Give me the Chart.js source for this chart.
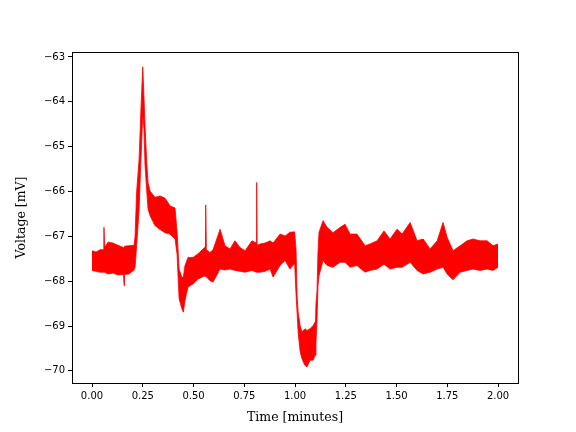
<!DOCTYPE html>
<html lang="en">
<head>
    <meta charset="UTF-8">
    <script src="https://cdn.jsdelivr.net/npm/chart.js@4.4.0/dist/chart.umd.min.js"></script>
    <title>Voltage trace</title>
    <style>
        html, body { margin: 0; padding: 0; background: #fff; }
        #wrap { width: 576px; height: 432px; }
    </style>
</head>
<body>
<div id="wrap"><canvas id="container" width="576" height="432"></canvas></div>

<script>
    // time in minutes, upper / lower edge of the noisy trace in mV
    const times = [0.000, 0.020, 0.039, 0.057, 0.059, 0.062, 0.079, 0.103, 0.128, 0.155, 0.158, 0.160, 0.182, 0.207, 0.212,
        0.220, 0.232, 0.241, 0.250, 0.256, 0.261, 0.269, 0.276, 0.286, 0.310, 0.335, 0.360, 0.384, 0.409, 0.419,
        0.429, 0.443, 0.450, 0.458, 0.473, 0.498, 0.522, 0.557, 0.560, 0.563, 0.581, 0.596, 0.631, 0.655, 0.680,
        0.704, 0.729, 0.754, 0.788, 0.810, 0.811, 0.813, 0.828, 0.852, 0.877, 0.892, 0.926, 0.951, 0.975, 0.998,
        1.005, 1.010, 1.015, 1.025, 1.034, 1.049, 1.059, 1.074, 1.089, 1.099, 1.103, 1.108, 1.113, 1.118, 1.138,
        1.158, 1.187, 1.222, 1.246, 1.271, 1.305, 1.345, 1.369, 1.404, 1.438, 1.468, 1.502, 1.527, 1.567, 1.601,
        1.631, 1.665, 1.700, 1.729, 1.749, 1.778, 1.813, 1.847, 1.877, 1.911, 1.946, 1.975, 2.000];
    const upper = [-67.32, -67.35, -67.30, -67.30, -66.80, -67.25, -67.13, -67.15, -67.20, -67.25, -67.25, -67.22, -67.21, -67.20, -67.00,
        -66.00, -65.28, -64.17, -63.22, -63.90, -64.50, -65.30, -65.80, -65.99, -66.13, -66.10, -66.15, -66.32, -66.37, -66.90,
        -67.73, -67.92, -67.90, -67.65, -67.47, -67.47, -67.39, -67.24, -66.30, -67.30, -67.36, -67.30, -66.84, -67.21, -67.28,
        -67.10, -67.25, -67.32, -67.10, -67.15, -65.80, -67.20, -67.17, -67.15, -67.10, -67.15, -66.95, -66.99, -66.91, -66.90,
        -67.30, -68.32, -68.68, -68.99, -69.13, -69.06, -69.10, -69.06, -68.99, -68.91, -68.50, -68.24, -67.35, -66.91, -66.65,
        -66.80, -66.92, -66.80, -66.73, -66.95, -66.95, -67.21, -67.17, -67.10, -66.88, -67.06, -66.84, -66.95, -66.69, -67.10,
        -67.06, -67.28, -67.10, -66.69, -67.02, -67.32, -67.21, -67.10, -67.06, -67.10, -67.10, -67.21, -67.17];
    const lower = [-67.76, -67.78, -67.80, -67.80, -67.80, -67.80, -67.84, -67.82, -67.86, -67.85, -68.10, -67.85, -67.84, -67.75, -67.70,
        -67.20, -66.40, -65.30, -64.30, -64.60, -65.40, -65.95, -66.39, -66.54, -66.76, -66.85, -66.92, -66.95, -67.06, -67.40,
        -68.39, -68.62, -68.69, -68.43, -68.13, -68.06, -67.95, -67.88, -67.90, -67.90, -67.99, -68.02, -67.73, -67.75, -67.73,
        -67.76, -67.78, -67.80, -67.76, -67.80, -67.80, -67.80, -67.80, -67.78, -67.73, -67.91, -67.65, -67.54, -67.73, -67.60,
        -68.30, -68.70, -69.13, -69.57, -69.73, -69.88, -69.91, -69.76, -69.76, -69.65, -69.40, -68.90, -68.10, -67.88, -67.54,
        -67.65, -67.69, -67.58, -67.58, -67.69, -67.65, -67.80, -67.76, -67.73, -67.62, -67.73, -67.69, -67.69, -67.58, -67.76,
        -67.84, -67.80, -67.73, -67.69, -67.84, -67.97, -67.80, -67.76, -67.73, -67.76, -67.73, -67.76, -67.69];

    const xTicks = [0, 0.25, 0.5, 0.75, 1, 1.25, 1.5, 1.75, 2];
    const yTicks = [-70, -69, -68, -67, -66, -65, -64, -63];

    const tickFont = {family: 'DejaVu Sans', size: 10};
    const labelFont = {family: 'DejaVu Serif', size: 12.5};

    const frame = {
        id: 'frame',
        afterDraw(chart) {
            const {ctx, chartArea: a} = chart;
            ctx.save();
            ctx.strokeStyle = '#000';
            ctx.lineWidth = 1;
            ctx.strokeRect(Math.round(a.left) + 0.5, Math.round(a.top) + 0.5,
                Math.round(a.right - a.left), Math.round(a.bottom - a.top));
            ctx.restore();
        }
    };

    const ctx = document.getElementById('container').getContext('2d');
    new Chart(ctx, {
        type: 'line',
        data: {
            datasets: [{
                data: times.map((t, i) => ({x: t, y: upper[i]})),
                borderColor: '#ff0000',
                borderWidth: 0.8,
                pointRadius: 0,
                fill: false
            }, {
                data: times.map((t, i) => ({x: t, y: lower[i]})),
                borderColor: '#ff0000',
                backgroundColor: '#ff0000',
                borderWidth: 0.8,
                pointRadius: 0,
                fill: '-1'
            }]
        },
        options: {
            responsive: false,
            animation: false,
            layout: {padding: {top: 52, right: 58, left: 0, bottom: 0}},
            plugins: {legend: {display: false}, tooltip: {enabled: false}},
            scales: {
                x: {
                    type: 'linear',
                    min: -0.0985,
                    max: 2.098,
                    afterBuildTicks: s => { s.ticks = xTicks.map(v => ({value: v})); },
                    afterFit: s => { s.height = 49; },
                    border: {display: false},
                    grid: {drawOnChartArea: false, drawTicks: true, tickLength: 4, tickColor: '#000'},
                    ticks: {
                        color: '#000', font: tickFont, padding: 3, maxRotation: 0,
                        callback: v => v.toFixed(2)
                    },
                    title: {display: true, text: 'Time [minutes]', color: '#000', font: labelFont,
                        padding: {top: 0, bottom: 6.5}}
                },
                y: {
                    min: -70.27,
                    max: -62.89,
                    afterBuildTicks: s => { s.ticks = yTicks.map(v => ({value: v})); },
                    afterFit: s => { s.width = 72; },
                    border: {display: false},
                    grid: {drawOnChartArea: false, drawTicks: true, tickLength: 4, tickColor: '#000'},
                    ticks: {
                        color: '#000', font: tickFont, padding: 3,
                        callback: v => (v < 0 ? '\u2212' : '') + Math.abs(v)
                    },
                    title: {display: true, text: 'Voltage [mV]', color: '#000', font: labelFont,
                        padding: {top: 14.5, bottom: 0}}
                }
            }
        },
        plugins: [frame]
    });
</script>
</body>
</html>
